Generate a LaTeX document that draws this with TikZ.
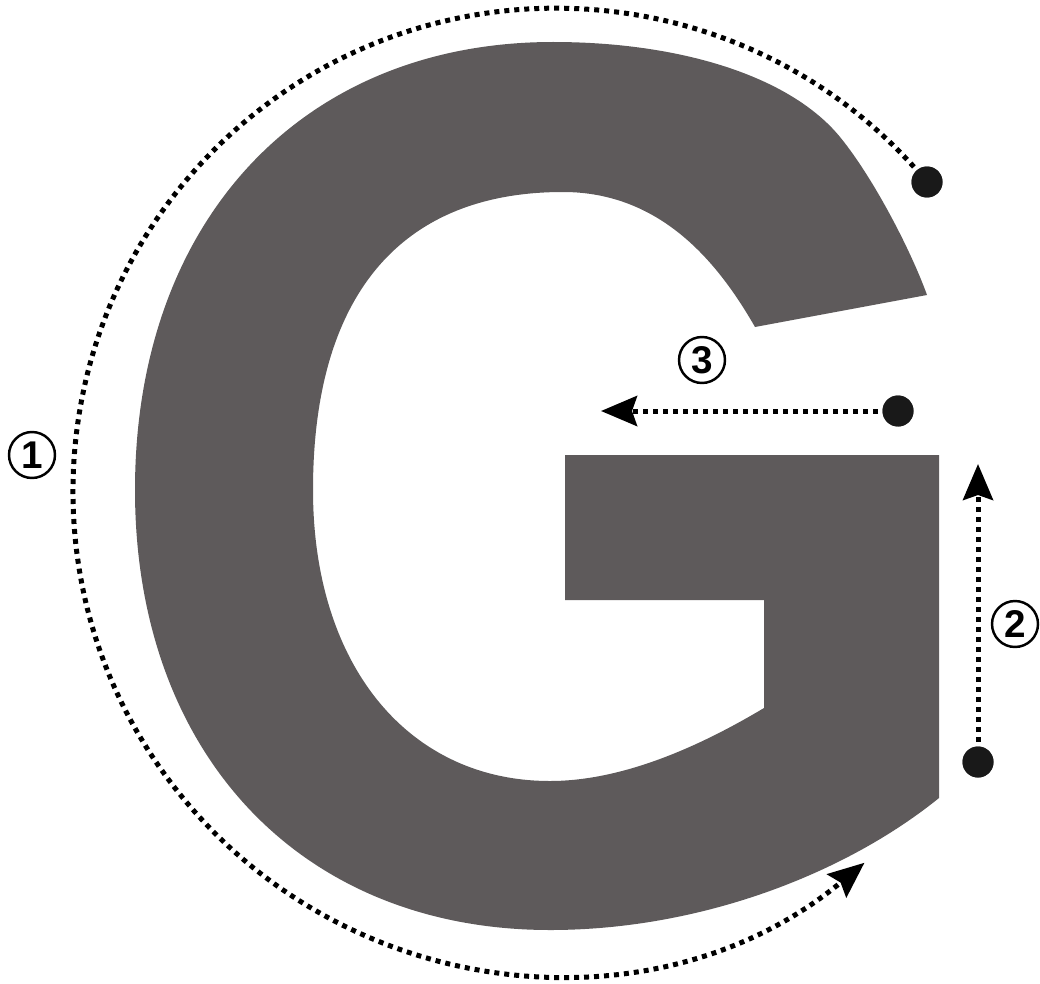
\documentclass[tikz,border=0pt]{standalone}
\usepackage{fontspec}
\setmainfont{Liberation Sans}
\usetikzlibrary{arrows.meta}
\definecolor{gfill}{RGB}{94,90,91}
\tikzset{
  dotline/.style={draw=black, line width=0.1cm, dash pattern=on 0.1cm off 0.1cm,
    -{Stealth[length=0.72cm, width=0.6cm, inset=0.1cm]}},
  bigdot/.style={circle, fill=black!90, inner sep=0pt, minimum size=0.62cm},
  numlabel/.style={circle, draw=black, line width=1.4pt, minimum size=0.92cm, inner sep=0pt,
    font=\bfseries\fontsize{22}{22}\selectfont},
}
\begin{document}
\begin{tikzpicture}[x=0.02cm, y=-0.02cm]
\useasboundingbox (0,0) rectangle (1040,983);
% the letter G
\fill[gfill] (927,295) -- (755,327)
  .. controls (720,266) and (663,192) .. (563,192)
  .. controls (400,192) and (313,296) .. (313,490)
  .. controls (313,665) and (408,781) .. (550,781)
  .. controls (630,781) and (712,739) .. (764,708)
  -- (764,600) -- (565,600) -- (565,455) -- (939,455) -- (939,798)
  .. controls (845,874) and (700,930) .. (550,930)
  .. controls (301,930) and (135,754) .. (135,490)
  .. controls (135,221) and (302,42) .. (553,42)
  .. controls (680,42) and (790,76) .. (840,137)
  .. controls (872,176) and (910,248) .. (927,295)
  -- cycle;
% dots and tips
\node[bigdot] (d1) at (927,182) {};
\node[bigdot] (d2) at (978,762) {};
\node[bigdot] (d3) at (898,411) {};
\coordinate (t2) at (978,464);
\coordinate (t3) at (601,411);
% connectors
\draw[dotline] (d1.center) arc[start angle=-39.8, end angle=-309.7, radius=483];
\draw[dotline] (d2.center) -- (t2);
\draw[dotline] (d3.center) -- (t3);
\node[bigdot] at (d1) {};
\node[bigdot] at (d2) {};
\node[bigdot] at (d3) {};
% labels
\node[numlabel] (l1) at (32,455) {1};
\node[numlabel] (l2) at (1015,624) {2};
\node[numlabel] (l3) at (702,360) {3};
\end{tikzpicture}
\end{document}
